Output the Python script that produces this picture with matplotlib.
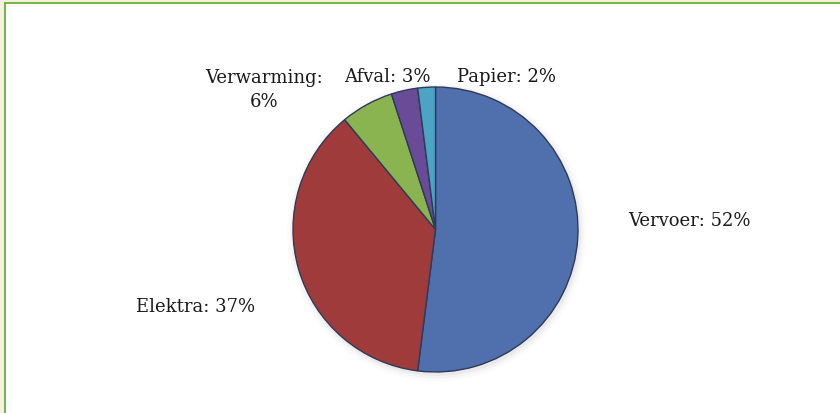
import matplotlib
matplotlib.use('Agg')
import matplotlib.pyplot as plt
from matplotlib.patches import Rectangle
from matplotlib.lines import Line2D

labels = ['Vervoer', 'Elektra', 'Verwarming', 'Afval', 'Papier']
shares = [52, 37, 6, 3, 2]
kleuren = ['#4f6fad', '#a03b3b', '#8ab44f', '#6a4b97', '#4ca3c3']

W, H = 840, 414
fig = plt.figure(figsize=(W / 100, H / 100), dpi=100)
fig.patch.set_facecolor('#f5f2e1')

# wit kader met groene lijn links en boven
fig.patches.append(Rectangle((5 / W, 0), 1, (H - 4) / H, transform=fig.transFigure,
                             facecolor='white', edgecolor='none', zorder=-5))
fig.lines.append(Line2D([4.5 / W, 4.5 / W], [0, (H - 3.5) / H], transform=fig.transFigure,
                        color='#7ab648', linewidth=1.5, zorder=-4))
fig.lines.append(Line2D([4.5 / W, 1], [(H - 3.5) / H, (H - 3.5) / H], transform=fig.transFigure,
                        color='#7ab648', linewidth=1.5, zorder=-4))

cx, cy, r = 435.5, 230.5, 142.5
ax = fig.add_axes([(cx - r) / W, (H - cy - r) / H, 2 * r / W, 2 * r / H])
ax.set_zorder(5)
ax.set_facecolor('none')

# zachte schaduw
for k, a in [(1.05, 0.03), (1.03, 0.05), (1.012, 0.08)]:
    ax.add_patch(plt.Circle((0.01, -0.015), k, color='#808080', alpha=a, lw=0,
                            zorder=0, clip_on=False))

wedges, _ = ax.pie(shares, colors=kleuren, startangle=90, counterclock=False,
                   radius=1, wedgeprops=dict(edgecolor='#2e3a58', linewidth=1.0))
for w in wedges:
    w.set_zorder(2)
    w.set_clip_on(False)
ax.set_xlim(-1, 1)
ax.set_ylim(-1, 1)
ax.set_aspect('equal')
ax.axis('off')

# labelposities (pixels in de figuur)
posities = {
    'Vervoer': (689, 221),
    'Elektra': (196, 307),
    'Verwarming': (264, 90),
    'Afval': (387.5, 77),
    'Papier': (507, 77),
}
for naam, pct in zip(labels, shares):
    px, py = posities[naam]
    if naam == 'Verwarming':
        tekst = f'{naam}:\n{pct}%'
    else:
        tekst = f'{naam}: {pct}%'
    fig.text(px / W, 1 - py / H, tekst, ha='center', va='center', fontsize=13,
             family='DejaVu Serif', color='#1a1a1a', linespacing=1.4, zorder=6)

fig.savefig('out.png', dpi=100, facecolor=fig.get_facecolor())
